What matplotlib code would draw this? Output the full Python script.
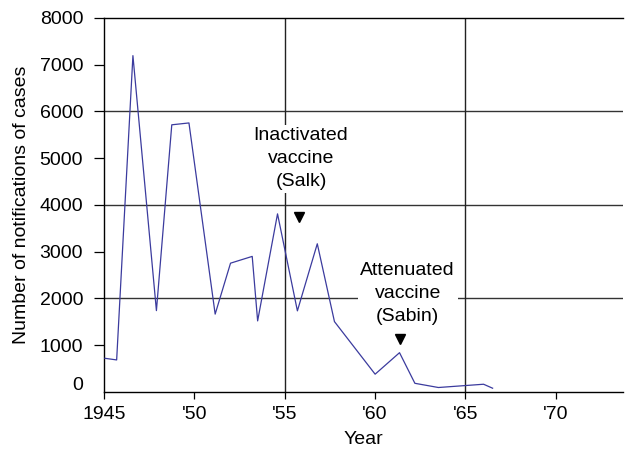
import numpy as np
import matplotlib
matplotlib.use('Agg')
from matplotlib import pyplot as plt
import matplotlib.transforms as mtransforms

# values
years = [1945.05, 1945.7, 1946.6, 1947.9, 1948.75, 1949.7, 1951.15, 1952.0,
         1953.2, 1953.5, 1954.6, 1955.7, 1956.8, 1957.75, 1960.0, 1961.35,
         1962.2, 1963.5, 1966.0, 1966.5]
cases = [720, 685, 7195, 1740, 5715, 5755, 1665, 2755,
         2900, 1520, 3810, 1735, 3170, 1505, 380, 840,
         185, 95, 165, 80]

xticks = [1945, 1950, 1955, 1960, 1965, 1970]
xticklabels = ['1945', "'50", "'55", "'60", "'65", "'70"]
yticks = [1000, 2000, 3000, 4000, 5000, 6000, 7000, 8000]

salk_year, salk_y = 1955.8, 3750
sabin_year, sabin_y = 1961.35, 1130

plt.rcParams['font.family'] = ['Liberation Sans', 'DejaVu Sans']
plt.rcParams['font.size'] = 14

fig = plt.figure(figsize=(6.25, 4.5), dpi=100)
ax = fig.add_axes([0.1664, 0.129, 0.83, 0.831])

# grid lines (only every other one)
for yv in [2000, 4000, 6000]:
    ax.axhline(yv, color='#333333', lw=1.0, zorder=1)
for xv in [1955, 1965]:
    ax.axvline(xv, color='#222222', lw=1.0, zorder=1)

ax.plot(years, cases, color='#3b3b9e', lw=0.9, zorder=3)

ax.set_xlim(1945, 1973.7)
ax.set_ylim(0, 8000)
ax.set_xticks(xticks)
ax.set_xticklabels(xticklabels)
ax.set_yticks(yticks)
ax.tick_params(axis='y', direction='out', length=7, width=0.9, pad=8)
ax.tick_params(axis='x', direction='out', length=5, width=0.9, pad=5)
ax.spines['right'].set_visible(False)
for s in ['left', 'bottom', 'top']:
    ax.spines[s].set_linewidth(1.0)

# the 0 label sits a bit above the axis line, no tick mark
off = mtransforms.ScaledTranslation(-15 / 72, 5 / 72, fig.dpi_scale_trans)
ax.text(0, 0, '0', transform=ax.get_yaxis_transform() + off,
        ha='right', va='center')

ax.set_xlabel('Year', labelpad=6)
ax.set_ylabel('Number of notifications of cases', labelpad=7)

box = dict(facecolor='white', edgecolor='none', pad=2)
ax.text(1955.9, 4990, 'Inactivated\nvaccine\n(Salk)', ha='center', va='center',
        linespacing=1.45, bbox=box, zorder=4)
ax.text(1961.8, 2110, 'Attenuated\nvaccine\n(Sabin)', ha='center', va='center',
        linespacing=1.45, bbox=box, zorder=4)
ax.plot([salk_year], [salk_y], marker='v', color='black', ms=6.5, zorder=5)
ax.plot([sabin_year], [sabin_y], marker='v', color='black', ms=6.5, zorder=5)

plt.savefig('out.png', dpi=100)
